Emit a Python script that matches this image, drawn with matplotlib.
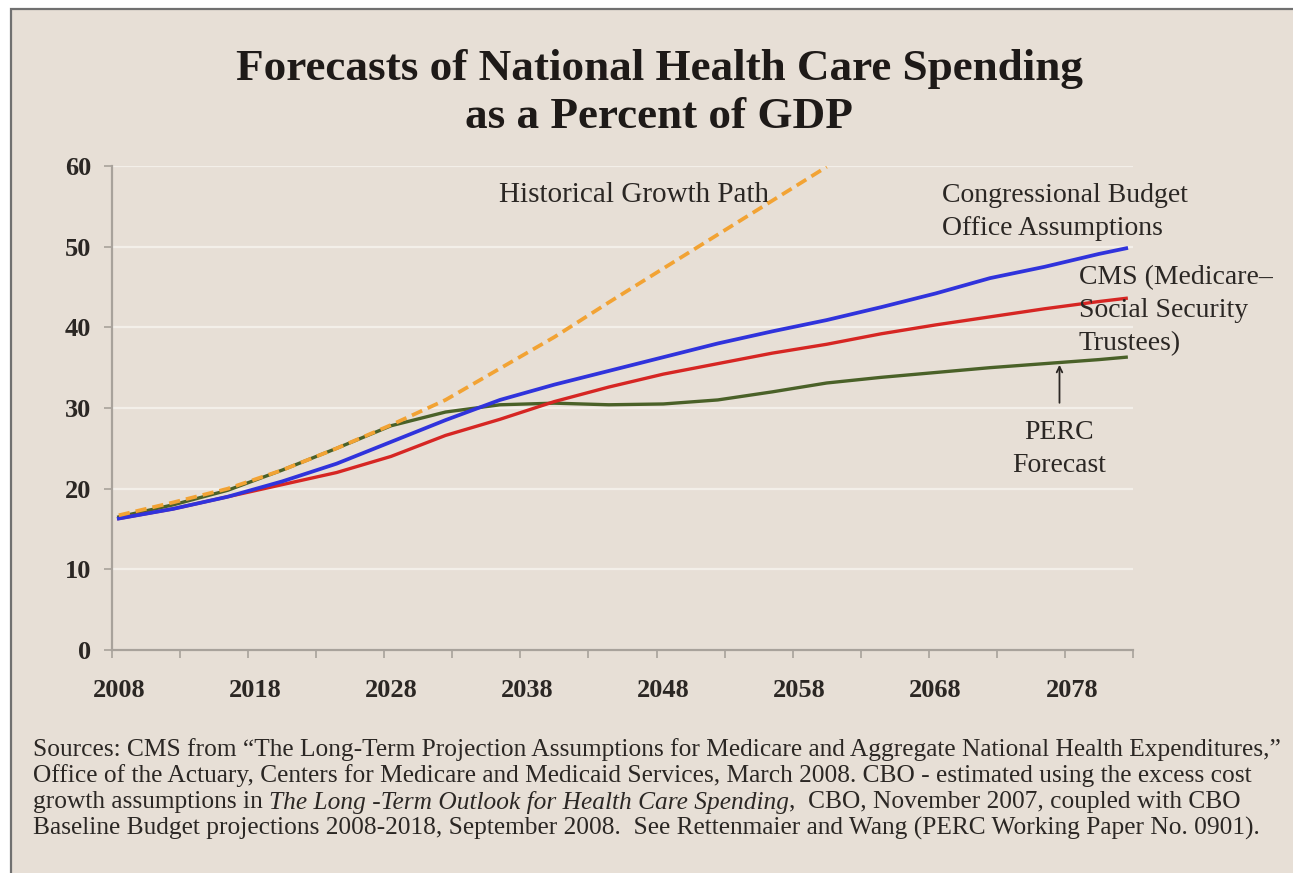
import numpy as np
import matplotlib
matplotlib.use('Agg')
import matplotlib.pyplot as plt
from matplotlib.patches import Rectangle

# values (percent of GDP)
years = [2008, 2012, 2016, 2020, 2024, 2028, 2032, 2036, 2040, 2044,
         2048, 2052, 2056, 2060, 2064, 2068, 2072, 2076, 2080, 2082]
cbo = [16.3, 17.5, 19.0, 20.9, 23.1, 25.8, 28.5, 31.0, 32.9, 34.6,
       36.3, 38.0, 39.5, 40.9, 42.5, 44.2, 46.1, 47.5, 49.1, 49.8]
cms = [16.3, 17.5, 19.0, 20.5, 22.0, 24.0, 26.6, 28.6, 30.8, 32.6,
       34.2, 35.5, 36.8, 37.9, 39.2, 40.3, 41.3, 42.3, 43.2, 43.6]
perc = [16.5, 18.0, 19.8, 22.3, 25.0, 27.8, 29.5, 30.4, 30.6, 30.4,
        30.5, 31.0, 32.0, 33.1, 33.8, 34.4, 35.0, 35.5, 36.0, 36.3]
hist_years = [2008, 2012, 2016, 2020, 2024, 2028, 2032, 2036, 2040, 2044,
              2048, 2052, 2056, 2060]
hist = [16.7, 18.3, 20.0, 22.3, 25.0, 27.9, 31.0, 34.9, 38.8, 43.1,
        47.3, 51.5, 55.7, 59.9]

label_years = [2008, 2018, 2028, 2038, 2048, 2058, 2068, 2078]
y_ticks = [0, 10, 20, 30, 40, 50, 60]

bg = '#e7dfd6'
txt = '#2b2724'
serif = ['Liberation Serif', 'DejaVu Serif']

fig = plt.figure(figsize=(12.93, 8.73), dpi=100)
fig.patch.set_facecolor('white')
# beige panel with grey frame on left/top
fig.patches.append(Rectangle((11/1293, -0.1), 1.2, 1.1 - 8/873 - 0.001,
                             transform=fig.transFigure, facecolor=bg,
                             edgecolor='#707070', linewidth=1.6, zorder=-10))

ax = fig.add_axes([112/1293, (873-650)/873, (1133-112)/1293, (650-166)/873])
ax.set_facecolor(bg)

ax.plot(hist_years, hist, color='#f2a334', lw=2.7, ls=(0, (3, 1.6)), zorder=5)
ax.plot(years, perc, color='#4a6128', lw=2.4, zorder=3)
ax.plot(years, cms, color='#d62623', lw=2.4, zorder=3)
ax.plot(years, cbo, color='#3033dc', lw=2.7, zorder=4)

ax.set_xlim(2007.5, 2082.5)
ax.set_ylim(0, 60)
ax.set_yticks(y_ticks)
ax.set_xticks(label_years)
ax.set_xticks(np.arange(2007.5, 2083, 5), minor=True)
ax.yaxis.grid(True, color='#f3efe9', lw=1.6)
ax.set_axisbelow(True)
for s in ['top', 'right']:
    ax.spines[s].set_visible(False)
for s in ['left', 'bottom']:
    ax.spines[s].set_color('#a8a29b')
    ax.spines[s].set_linewidth(1.6)
ax.tick_params(axis='x', which='major', length=0, pad=21)
ax.tick_params(axis='x', which='minor', length=6, color='#a8a29b', width=1.2)
ax.tick_params(axis='y', length=6, color='#a8a29b', width=1.2, pad=9)
for lab in ax.get_xticklabels() + ax.get_yticklabels():
    lab.set_family(serif)
    lab.set_fontweight('bold')
    lab.set_fontsize(19)
    lab.set_color(txt)

fig.text(0.51, 1 - 93/873, 'Forecasts of National Health Care Spending\nas a Percent of GDP',
         ha='center', va='center', family=serif, fontweight='bold', fontsize=32.5,
         color='#1e1a18', linespacing=1.28)

ann_fs = 20
ax.text(2035.9, 56.4, 'Historical Growth Path', ha='left', va='center',
        family=serif, fontsize=21, color=txt)
ax.text(2068.5, 54.3, 'Congressional Budget\nOffice Assumptions', ha='left', va='center',
        family=serif, fontsize=ann_fs, color=txt, linespacing=1.42)
ax.text(2078.5, 42.1, 'CMS (Medicare\u2013\nSocial Security\nTrustees)', ha='left', va='center',
        family=serif, fontsize=ann_fs, color=txt, linespacing=1.42)
ax.text(2077.1, 24.9, 'PERC\nForecast', ha='center', va='center',
        family=serif, fontsize=ann_fs, color=txt, linespacing=1.42)
ax.annotate('', xy=(2077.1, 35.7), xytext=(2077.1, 30.3),
            arrowprops=dict(arrowstyle='->', color=txt, lw=1.3))

# source note
src_x = 33/1293
src_lines = [
    'Sources: CMS from \u201cThe Long-Term Projection Assumptions for Medicare and Aggregate National Health Expenditures,\u201d',
    'Office of the Actuary, Centers for Medicare and Medicaid Services, March 2008. CBO - estimated using the excess cost',
    None,
    'Baseline Budget projections 2008-2018, September 2008.  See Rettenmaier and Wang (PERC Working Paper No. 0901).',
]
line_y = [750, 776, 802, 828]
src_fs = 18.3
for s, py in zip(src_lines, line_y):
    if s is not None:
        fig.text(src_x, 1 - py/873, s, ha='left', va='center', family=serif,
                 fontsize=src_fs, color=txt)

parts = [('growth assumptions in ', 'normal'),
         ('The Long -Term Outlook for Health Care Spending', 'italic'),
         (',  CBO, November 2007, coupled with CBO', 'normal')]
fig.canvas.draw()
r = fig.canvas.get_renderer()
x0 = src_x
for s, st in parts:
    t = fig.text(x0, 1 - line_y[2]/873, s, ha='left', va='center', family=serif,
                 fontsize=src_fs, style=st, color=txt)
    bb = t.get_window_extent(renderer=r)
    x0 += bb.width / fig.bbox.width

fig.savefig('out.png', dpi=100, facecolor=fig.get_facecolor())
